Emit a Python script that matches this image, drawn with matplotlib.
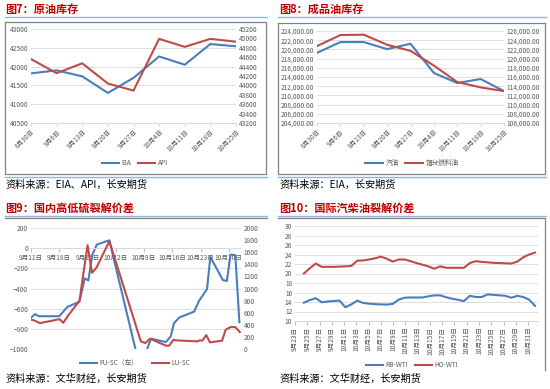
import matplotlib
matplotlib.use('Agg')
import matplotlib.pyplot as plt
import numpy as np
from matplotlib.ticker import FuncFormatter, MultipleLocator
from matplotlib.lines import Line2D

plt.rcParams['font.family'] = ['Noto Sans CJK SC', 'DejaVu Sans']

# ---------------- data ----------------
# Fig 7: crude inventory
c7_dates = ["8月30日", "9月6日", "9月13日", "9月20日", "9月27日", "10月4日", "10月11日", "10月18日", "10月25日"]
c7_eia = [41820, 41900, 41740, 41300, 41700, 42270, 42050, 42600, 42540]
c7_api = [44560, 44260, 44470, 44040, 43890, 44990, 44820, 44990, 44930]

# Fig 8: product inventory
c8_dates = ["8月30日", "9月6日", "9月13日", "9月20日", "9月27日", "10月4日", "10月11日", "10月18日", "10月25日"]
c8_gasoline = [219250, 221590, 221590, 220060, 221230, 214880, 212690, 213560, 210930]
c8_distillate = [122720, 125120, 125200, 123010, 121690, 118480, 114900, 113740, 112930]

# Fig 9: domestic high/low sulfur crack (x = days since 9月11日)
c9_tick_labels = ["9月11日", "9月18日", "9月25日", "10月2日", "10月9日", "10月16日", "10月23日", "10月30日"]
c9_fu_days = [0, 1, 2, 7, 9, 12, 13.3, 14.2, 15.2, 16.3, 19.4, 27, 29.7, 33.4, 34.6, 35.4, 36.7, 40.4, 41.6, 43.6, 44.4, 47.5, 48.5, 49.4, 50.6, 51.6]
c9_fu_sc = [-688, -655, -675, -675, -583, -530, -300, -320, -63, 36, 78, -1190, -898, -931, -875, -744, -688, -629, -523, -405, -86, -316, -326, -63, -70, -734]
c9_lu_days = [0, 1, 2.2, 7.1, 8, 9.2, 12, 13.3, 14, 15.1, 16.2, 19.4, 27.2, 28.3, 29.5, 33.4, 34.2, 35.3, 35.8, 41.2, 41.8, 42.4, 43.4, 44.3, 47.3, 48.2, 49.4, 50.6, 51.7]
c9_lu_sc = [488, 466, 428, 493, 433, 554, 795, 1397, 1715, 1260, 1343, 1781, 126, 99, 170, 55, 55, 154, 143, 126, 143, 137, 230, 110, 137, 318, 362, 362, 280]

# Fig 10: international gasoline / diesel crack
c10_labels = ["9月23日", "9月25日", "9月27日", "9月29日", "10月1日", "10月3日", "10月5日", "10月7日", "10月9日", "10月11日",
              "10月13日", "10月15日", "10月17日", "10月19日", "10月21日", "10月23日", "10月25日", "10月27日", "10月29日", "10月31日"]
c10_rb_wti = [13.85, 14.4, 14.8, 13.95, 14.1, 14.2, 14.3, 12.9, 13.5, 14.3,
              13.8, 13.65, 13.55, 13.5, 13.45, 13.6, 14.5, 14.9, 14.95, 14.95,
              14.95, 15.2, 15.4, 15.4, 15.0, 14.7, 14.45, 14.2, 15.3, 15.05,
              15.05, 15.6, 15.5, 15.4, 15.3, 14.9, 15.3, 15.05, 14.5, 13.2]
c10_ho_wti = [20.0, 21.1, 22.1, 21.4, 21.4, 21.4, 21.45, 21.5, 21.6, 22.7,
              22.75, 22.95, 23.2, 23.55, 23.1, 22.5, 22.95, 22.95, 22.6, 22.2,
              21.85, 21.5, 21.0, 21.5, 21.2, 21.2, 21.2, 21.2, 22.2, 22.6,
              22.45, 22.35, 22.25, 22.2, 22.15, 22.1, 22.5, 23.4, 24.0, 24.4]

# ---------------- style ----------------
BLUE = '#4A7EBB'
RED = '#BE4B48'
TXT = '#595959'
GRID = '#D9D9D9'
TITLE = '#C00000'
SEP = '#8EB4E3'
BOX = '#808080'
TFS = 4.8
TITLE_FS = 8.0
SRC_FS = 7.3

W, H = 550, 389
fig = plt.figure(figsize=(5.5, 3.89), dpi=100)


def ax_at(x0, y0, x1, y1):
    return fig.add_axes([x0 / W, 1 - y1 / H, (x1 - x0) / W, (y1 - y0) / H])


def fline(xs, ys, color, lw):
    fig.add_artist(Line2D([x / W for x in xs], [1 - y / H for y in ys], color=color, lw=lw,
                          transform=fig.transFigure))


def ftext(x, y, s, **kw):
    fig.text(x / W, 1 - y / H, s, **kw)


def style(ax):
    for s in ax.spines.values():
        s.set_visible(False)
    ax.tick_params(axis='both', labelsize=TFS, colors=TXT, length=0, pad=2)
    ax.set_facecolor('none')


# ---------- titles, separators, sources ----------
ftext(5, 9, '图7：原油库存', color=TITLE, fontsize=TITLE_FS, fontweight='bold', va='center')
ftext(279, 9, '图8：成品油库存', color=TITLE, fontsize=TITLE_FS, fontweight='bold', va='center')
ftext(5, 208, '图9：国内高低硫裂解价差', color=TITLE, fontsize=TITLE_FS, fontweight='bold', va='center')
ftext(279, 208, '图10：国际汽柴油裂解价差', color=TITLE, fontsize=TITLE_FS, fontweight='bold', va='center')

fline([5, 267], [17, 17], SEP, 1.0)
fline([278, 546], [17, 17], SEP, 1.0)
fline([5, 267], [176.5, 176.5], SEP, 1.0)
fline([278, 546], [176.5, 176.5], SEP, 1.0)
fline([5, 267], [215.5, 215.5], SEP, 1.0)
fline([278, 546], [215.5, 215.5], SEP, 1.0)

# chart boxes
fline([5, 266, 266, 5, 5], [21.5, 21.5, 174, 174, 21.5], BOX, 0.9)
fline([278, 544.5, 544.5, 278, 278], [22.5, 22.5, 174, 174, 22.5], BOX, 0.9)
fline([5, 267], [217.5, 217.5], BOX, 0.9)
fline([278, 545, 545], [218, 218, 370], BOX, 0.9)

ftext(5, 185, '资料来源：EIA、API，长安期货', color='black', fontsize=SRC_FS, va='center')
ftext(279, 185, '资料来源：EIA，长安期货', color='black', fontsize=SRC_FS, va='center')
ftext(5, 379, '资料来源：文华财经，长安期货', color='black', fontsize=SRC_FS, va='center')
ftext(279, 379, '资料来源：文华财经，长安期货', color='black', fontsize=SRC_FS, va='center')

# ---------- Fig 7 ----------
ax = ax_at(31, 29, 236, 123)
x7 = np.arange(len(c7_dates))
l1, = ax.plot(x7, c7_eia, color=BLUE, lw=1.5, label='EIA')
ax.set_xlim(0, len(c7_dates) - 1)
ax.set_ylim(40500, 43000)
ax.yaxis.set_major_locator(MultipleLocator(500))
ax.grid(axis='y', color=GRID, lw=0.6)
style(ax)
ax.spines['bottom'].set_visible(True)
ax.spines['bottom'].set_color(GRID)
ax.set_xticks(x7)
ax.set_xticklabels(c7_dates, rotation=45, ha='right', rotation_mode='anchor')
ax.tick_params(axis='x', length=2.5, color=GRID, pad=1)
ax2 = ax.twinx()
l2, = ax2.plot(x7, c7_api, color=RED, lw=1.5, label='API')
ax2.set_ylim(43200, 45200)
ax2.yaxis.set_major_locator(MultipleLocator(200))
style(ax2)
fig.legend(handles=[l1, l2], loc='center', bbox_to_anchor=(135 / W, 1 - 163 / H), ncol=2,
           frameon=False, fontsize=TFS, handlelength=2.6, columnspacing=1.0, handletextpad=0.4,
           labelcolor=TXT)

# ---------- Fig 8 ----------
ax = ax_at(317, 31, 504, 123)
x8 = np.arange(len(c8_dates))
l1, = ax.plot(x8, c8_gasoline, color=BLUE, lw=1.5, label='汽油')
ax.set_xlim(0, len(c8_dates) - 1)
ax.set_ylim(204000, 224000)
ax.yaxis.set_major_locator(MultipleLocator(2000))
ax.yaxis.set_major_formatter(FuncFormatter(lambda v, p: f'{v:,.2f}'))
ax.grid(axis='y', color=GRID, lw=0.6)
style(ax)
ax.spines['bottom'].set_visible(True)
ax.spines['bottom'].set_color(GRID)
ax.set_xticks(x8)
ax.set_xticklabels(c8_dates, rotation=45, ha='right', rotation_mode='anchor')
ax.tick_params(axis='x', length=2.5, color=GRID, pad=1)
ax2 = ax.twinx()
l2, = ax2.plot(x8, c8_distillate, color=RED, lw=1.5, label='馏分燃料油')
ax2.set_ylim(106000, 126000)
ax2.yaxis.set_major_locator(MultipleLocator(2000))
ax2.yaxis.set_major_formatter(FuncFormatter(lambda v, p: f'{v:,.2f}'))
style(ax2)
fig.legend(handles=[l1, l2], loc='center', bbox_to_anchor=(412 / W, 1 - 163 / H), ncol=2,
           frameon=False, fontsize=TFS, handlelength=2.6, columnspacing=1.0, handletextpad=0.4,
           labelcolor=TXT)

# ---------- Fig 9 ----------
ax = ax_at(31, 228, 241, 349)
l1, = ax.plot(c9_fu_days, c9_fu_sc, color=BLUE, lw=1.5, label='FU-SC（左）')
ax.set_xlim(0, 52)
ax.set_ylim(-1000, 200)
ax.yaxis.set_major_locator(MultipleLocator(200))
ax.grid(axis='y', color=GRID, lw=0.6)
style(ax)
ax.spines['bottom'].set_visible(True)
ax.spines['bottom'].set_color(GRID)
ax.spines['bottom'].set_position(('data', 0))
ax.set_xticks(np.arange(len(c9_tick_labels)) * 7)
ax.set_xticklabels(c9_tick_labels)
ax.tick_params(axis='x', length=3, color='#BFBFBF', pad=1)
ax2 = ax.twinx()
l2, = ax2.plot(c9_lu_days, c9_lu_sc, color=RED, lw=1.5, label='LU-SC')
ax2.set_ylim(0, 2000)
ax2.yaxis.set_major_locator(MultipleLocator(200))
style(ax2)
fig.legend(handles=[l1, l2], loc='center', bbox_to_anchor=(135 / W, 1 - 363 / H), ncol=2,
           frameon=False, fontsize=TFS, handlelength=2.6, columnspacing=2.0, handletextpad=0.4,
           labelcolor=TXT)

# ---------- Fig 10 ----------
ax = ax_at(295, 226, 538, 321)
x10 = np.arange(len(c10_rb_wti))
l1, = ax.plot(x10, c10_rb_wti, color=BLUE, lw=1.5, label='RB-WTI')
l2, = ax.plot(x10, c10_ho_wti, color=RED, lw=1.5, label='HO-WTI')
ax.set_xlim(-1.5, len(c10_rb_wti) - 0.5)
ax.set_ylim(10, 30)
ax.yaxis.set_major_locator(MultipleLocator(2))
ax.grid(axis='y', color=GRID, lw=0.6)
style(ax)
ax.spines['bottom'].set_visible(True)
ax.spines['bottom'].set_color(GRID)
tick_pos = -1.5 + np.arange(len(c10_labels)) * 2.07
ax.set_xticks(tick_pos)
ax.set_xticklabels(c10_labels, rotation=90, va='top', ha='center')
ax.tick_params(axis='x', length=3, color='#BFBFBF', pad=1)
fig.legend(handles=[l1, l2], loc='center', bbox_to_anchor=(412 / W, 1 - 365 / H), ncol=2,
           frameon=False, fontsize=TFS, handlelength=2.6, columnspacing=1.0, handletextpad=0.4,
           labelcolor=TXT)

fig.savefig('out.png', dpi=100)
